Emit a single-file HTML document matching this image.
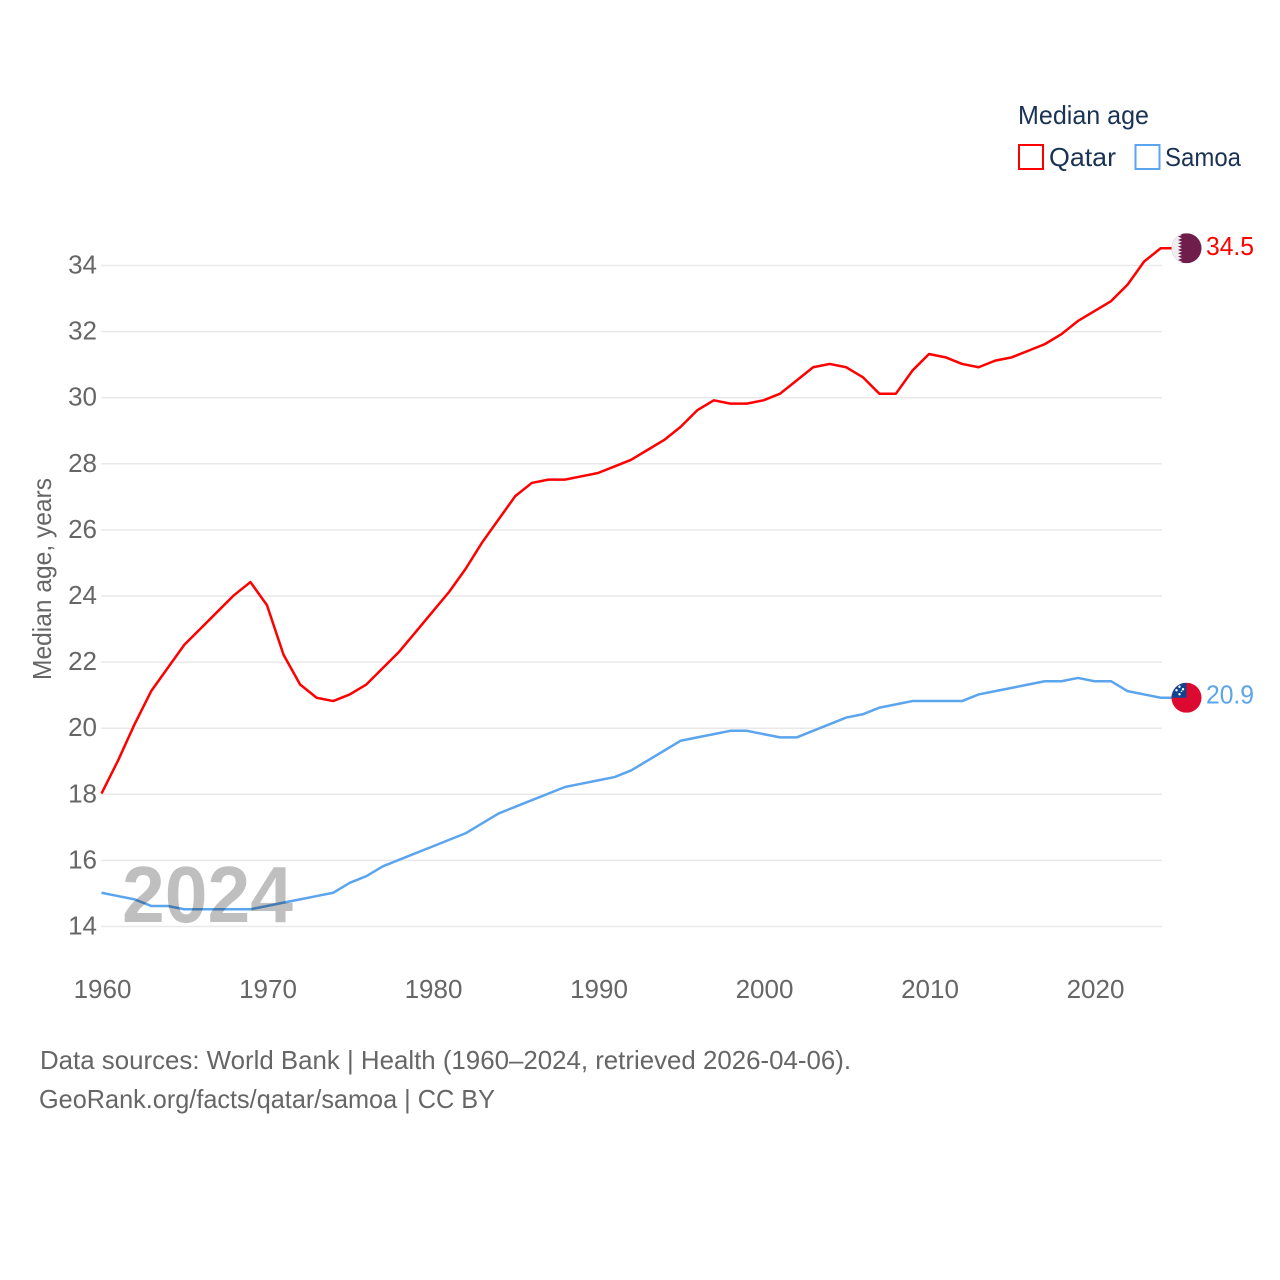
<!DOCTYPE html>
<html lang="en">
<head>
<meta charset="utf-8">
<title>Median age: Qatar and Samoa</title>
<style>
html,body{margin:0;padding:0;background:#fff;}
svg{display:block;}
text{font-family:"Liberation Sans",sans-serif;}
.tick{font-size:26px;fill:#666;}
.leg{font-size:26px;fill:#1a3355;}
.foot{font-size:26px;fill:#666;}
</style>
</head>
<body>
<svg id="chart" xmlns="http://www.w3.org/2000/svg" width="1280" height="1280" viewBox="0 0 1280 1280">
  <defs>
    <clipPath id="flag-clip"><circle cx="0" cy="0" r="15"></circle></clipPath>
  </defs>
  <rect x="0" y="0" width="1280" height="1280" fill="#fff"></rect>
  <g id="grid"></g>
  <g id="yticks"></g>
  <g id="xticks"></g>
  <text x="51" y="579" class="tick" text-anchor="middle" textLength="202" lengthAdjust="spacingAndGlyphs" transform="rotate(-90 51 579)">Median age, years</text>
  <g id="series"></g>
  <text x="122" y="922" font-size="80" font-weight="700" fill="rgba(0,0,0,0.25)" textLength="171" lengthAdjust="spacingAndGlyphs">2024</text>

  <g id="flag-qatar">
    <g clip-path="url(#flag-clip)">
      <rect x="-15" y="-15" width="30" height="30" fill="#6f1d4b"></rect>
      <polygon fill="#eeeeee" points="-15,-15 -8.500,-15 -4.500,-13.300 -8.500,-11.700 -4.500,-10 -8.500,-8.300 -4.500,-6.700 -8.500,-5 -4.500,-3.300 -8.500,-1.700 -4.500,0 -8.500,1.700 -4.500,3.300 -8.500,5 -4.500,6.700 -8.500,8.300 -4.500,10 -8.500,11.700 -4.500,13.300 -8.500,15 -15,15"></polygon>
    </g>
  </g>
  <g id="flag-samoa">
    <g clip-path="url(#flag-clip)">
      <rect x="-15" y="-15" width="30" height="30" fill="#dc0a30"></rect>
      <rect x="-15" y="-15" width="15" height="15" fill="#11448f"></rect>
      <circle cx="-7" cy="-11" r="1.200" fill="#fff"></circle>
      <circle cx="-3.500" cy="-8.500" r="1.200" fill="#fff"></circle>
      <circle cx="-10" cy="-7.500" r="1.200" fill="#fff"></circle>
      <circle cx="-5" cy="-6.500" r="0.800" fill="#fff"></circle>
      <circle cx="-7" cy="-3.500" r="1.200" fill="#fff"></circle>
    </g>
  </g>
  <text id="value-qatar" x="1206" font-size="26" fill="#ff0000" textLength="48" lengthAdjust="spacingAndGlyphs"></text>
  <text id="value-samoa" x="1206" font-size="26" fill="#5ba4ee" textLength="48" lengthAdjust="spacingAndGlyphs"></text>

  <g>
    <text x="1018" y="124" class="leg" textLength="131" lengthAdjust="spacingAndGlyphs">Median age</text>
    <g>
      <rect x="1019" y="145" width="24" height="24" fill="#fff" stroke="#ff0000" stroke-width="2"></rect>
      <text x="1049" y="166" class="leg" textLength="67" lengthAdjust="spacingAndGlyphs">Qatar</text>
    </g>
    <g>
      <rect x="1135.500" y="145" width="24" height="24" fill="#fff" stroke="#5ba4ee" stroke-width="2"></rect>
      <text x="1165" y="166" class="leg" textLength="76" lengthAdjust="spacingAndGlyphs">Samoa</text>
    </g>
  </g>

  <text x="40" y="1069" class="foot" textLength="811" lengthAdjust="spacingAndGlyphs">Data sources: World Bank | Health (1960–2024, retrieved 2026-04-06).</text>
  <text x="39" y="1108" class="foot" textLength="456" lengthAdjust="spacingAndGlyphs">GeoRank.org/facts/qatar/samoa | CC BY</text>
</svg>
<script>
const startYear = 1960;
const qatarValues = [18.0,19.0,20.1,21.1,21.8,22.5,23.0,23.5,24.0,24.4,23.7,22.2,21.3,20.9,20.8,21.0,21.3,21.8,22.3,22.9,23.5,24.1,24.8,25.6,26.3,27.0,27.4,27.5,27.5,27.6,27.7,27.9,28.1,28.4,28.7,29.1,29.6,29.9,29.8,29.8,29.9,30.1,30.5,30.9,31.0,30.9,30.6,30.1,30.1,30.8,31.3,31.2,31.0,30.9,31.1,31.2,31.4,31.6,31.9,32.3,32.6,32.9,33.4,34.1,34.5];
const samoaValues = [15.0,14.9,14.8,14.6,14.6,14.5,14.5,14.5,14.5,14.5,14.6,14.7,14.8,14.9,15.0,15.3,15.5,15.8,16.0,16.2,16.4,16.6,16.8,17.1,17.4,17.6,17.8,18.0,18.2,18.3,18.4,18.5,18.7,19.0,19.3,19.6,19.7,19.8,19.9,19.9,19.8,19.7,19.7,19.9,20.1,20.3,20.4,20.6,20.7,20.8,20.8,20.8,20.8,21.0,21.1,21.2,21.3,21.4,21.4,21.5,21.4,21.4,21.1,21.0,20.9];
const yTickValues = [14,16,18,20,22,24,26,28,30,32,34];
const xTickValues = [1960,1970,1980,1990,2000,2010,2020];

const NS = 'http://www.w3.org/2000/svg';
const xScale = function (year) { return 101.5 + (year - 1960) * 16.55; };
const yScale = function (v) { return 926.5 - (v - 14) * (926.5 - 265.5) / 20; };
const lineY = function (v) { return yScale(v) - 0.7; };

const grid = document.getElementById('grid');
const yticks = document.getElementById('yticks');
const xticks = document.getElementById('xticks');
const series = document.getElementById('series');

yTickValues.forEach(function (v) {
  const line = document.createElementNS(NS, 'line');
  line.setAttribute('x1', 101);
  line.setAttribute('x2', 1162);
  line.setAttribute('y1', yScale(v));
  line.setAttribute('y2', yScale(v));
  line.setAttribute('stroke', '#e9e9e9');
  line.setAttribute('stroke-width', '1.5');
  
  
  grid.appendChild(line);

  const label = document.createElementNS(NS, 'text');
  label.setAttribute('x', 97);
  label.setAttribute('y', yScale(v) + 8);
  label.setAttribute('text-anchor', 'end');
  label.setAttribute('class', 'tick');
  
  
  label.textContent = v;
  yticks.appendChild(label);
});

xTickValues.forEach(function (year) {
  const label = document.createElementNS(NS, 'text');
  label.setAttribute('x', xScale(year) + 1);
  label.setAttribute('y', 998);
  label.setAttribute('text-anchor', 'middle');
  label.setAttribute('class', 'tick');
  
  
  label.textContent = year;
  xticks.appendChild(label);
});

function pointsFor(values) {
  const pts = values.map(function (v, i) {
    return xScale(startYear + i).toFixed(2) + ',' + lineY(v).toFixed(2);
  });
  const last = values[values.length - 1];
  pts.push('1172,' + lineY(last).toFixed(2));
  return pts.join(' ');
}

const qatarLine = document.createElementNS(NS, 'polyline');
qatarLine.setAttribute('points', pointsFor(qatarValues));
qatarLine.setAttribute('fill', 'none');
qatarLine.setAttribute('stroke', '#ff0000');
qatarLine.setAttribute('stroke-width', '2.5');
qatarLine.setAttribute('stroke-linejoin', 'round');


series.appendChild(qatarLine);

const samoaLine = document.createElementNS(NS, 'polyline');
samoaLine.setAttribute('points', pointsFor(samoaValues));
samoaLine.setAttribute('fill', 'none');
samoaLine.setAttribute('stroke', '#5ba4ee');
samoaLine.setAttribute('stroke-width', '2.5');
samoaLine.setAttribute('stroke-linejoin', 'round');


series.appendChild(samoaLine);

const qatarLast = qatarValues[qatarValues.length - 1];
const samoaLast = samoaValues[samoaValues.length - 1];
document.getElementById('flag-qatar').setAttribute('transform', 'translate(1186.5 ' + lineY(qatarLast) + ')');
document.getElementById('flag-samoa').setAttribute('transform', 'translate(1186.5 ' + lineY(samoaLast) + ')');
const qatarValueText = document.getElementById('value-qatar');
qatarValueText.setAttribute('y', yScale(qatarLast) + 6);
qatarValueText.textContent = qatarLast.toFixed(1);
const samoaValueText = document.getElementById('value-samoa');
samoaValueText.setAttribute('y', yScale(samoaLast) + 5);
samoaValueText.textContent = samoaLast.toFixed(1);
</script>
</body>
</html>
